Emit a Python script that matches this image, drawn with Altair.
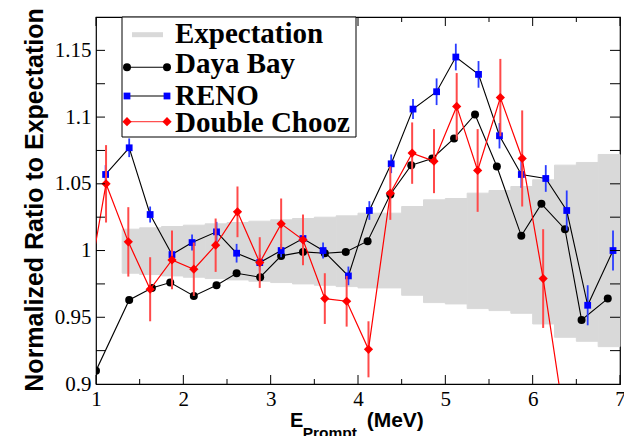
import altair as alt
import pandas as pd

# ---------------- data ----------------
band_x0 = [1.3, 1.5, 1.75, 2.0, 2.25, 2.5, 2.75, 3.0, 3.25, 3.5, 3.75, 4.0, 4.5, 4.75, 5.0, 5.25, 5.5, 5.75, 6.0, 6.25, 6.5, 6.75]
band_x1 = [1.5, 1.75, 2.0, 2.25, 2.5, 2.75, 3.0, 3.25, 3.5, 3.75, 4.0, 4.5, 4.75, 5.0, 5.25, 5.5, 5.75, 6.0, 6.25, 6.5, 6.75, 7.0]
band_hi = [1.016, 1.017, 1.018, 1.019, 1.020, 1.021, 1.022, 1.023, 1.024, 1.025, 1.026, 1.028, 1.033, 1.038, 1.039, 1.043, 1.045, 1.048, 1.053, 1.064, 1.066, 1.072]
band_lo = [0.983, 0.982, 0.981, 0.980, 0.979, 0.978, 0.977, 0.976, 0.975, 0.974, 0.973, 0.972, 0.9665, 0.961, 0.960, 0.9565, 0.955, 0.953, 0.945, 0.935, 0.932, 0.928]

db_x = [1.0, 1.38, 1.64, 1.85, 2.12, 2.38, 2.61, 2.88, 3.12, 3.37, 3.62, 3.86, 4.11, 4.37, 4.61, 4.85, 5.10, 5.34, 5.59, 5.87, 6.10, 6.37, 6.56, 6.86]
db_y = [0.910, 0.963, 0.972, 0.976, 0.966, 0.974, 0.983, 0.980, 0.996, 0.999, 0.998, 0.999, 1.007, 1.042, 1.064, 1.069, 1.084, 1.102, 1.063, 1.011, 1.035, 1.016, 0.948, 0.964]

reno_x = [1.11, 1.38, 1.62, 1.87, 2.10, 2.38, 2.61, 2.875, 3.12, 3.37, 3.60, 3.89, 4.13, 4.38, 4.63, 4.90, 5.12, 5.38, 5.62, 5.87, 6.15, 6.39, 6.63, 6.92]
reno_y = [1.057, 1.077, 1.027, 0.997, 1.006, 1.014, 0.998, 0.991, 1.000, 1.009, 1.000, 0.981, 1.030, 1.065, 1.106, 1.119, 1.145, 1.132, 1.086, 1.057, 1.054, 1.030, 0.959, 1.000]
reno_err = [0.007, 0.007, 0.006, 0.0045, 0.006, 0.0075, 0.007, 0.006, 0.005, 0.005, 0.006, 0.007, 0.007, 0.007, 0.0075, 0.010, 0.010, 0.010, 0.0095, 0.010, 0.010, 0.015, 0.015, 0.015]

dc_x = [0.875, 1.115, 1.37, 1.62, 1.87, 2.12, 2.37, 2.62, 2.875, 3.12, 3.37, 3.62, 3.87, 4.12, 4.37, 4.62, 4.87, 5.13, 5.37, 5.63, 5.88, 6.12, 6.37]
dc_y = [0.960, 1.050, 1.0065, 0.971, 0.993, 0.986, 1.004, 1.029, 0.991, 1.020, 1.008, 0.964, 0.962, 0.926, 1.043, 1.073, 1.067, 1.108, 1.060, 1.1146, 1.069, 0.979, 0.870]
dc_err = [0.0, 0.029, 0.026, 0.024, 0.022, 0.020, 0.020, 0.019, 0.019, 0.019, 0.019, 0.019, 0.019, 0.021, 0.020, 0.023, 0.024, 0.025, 0.031, 0.029, 0.036, 0.037, 0.0]

x_major = [1, 2, 3, 4, 5, 6, 7]
x_minor = [1.5, 2.5, 3.5, 4.5, 5.5, 6.5]
y_ticks = [0.925, 0.95, 0.975, 1.0, 1.025, 1.05, 1.075, 1.1, 1.125, 1.15]
y_labels = [0.9, 0.95, 1.0, 1.05, 1.1, 1.15]

legend_labels = ["Expectation", "Daya Bay", "RENO", "Double Chooz"]

# ---------------- layout ----------------
W, H = 524, 367
XD = [1, 7]
YD = [0.9, 1.175]
BAND = "#d9d9d9"

band = pd.DataFrame({"x0": band_x0, "x1": band_x1, "lo": band_lo, "hi": band_hi})
db = pd.DataFrame({"x": db_x, "y": db_y})
reno = pd.DataFrame({"x": reno_x, "y": reno_y, "e": reno_err})
reno["lo"] = reno["y"] - reno["e"]
reno["hi"] = reno["y"] + reno["e"]
dc = pd.DataFrame({"x": dc_x, "y": dc_y, "e": dc_err})
dc["lo"] = dc["y"] - dc["e"]
dc["hi"] = dc["y"] + dc["e"]

xscale = alt.Scale(domain=XD, nice=False, zero=False)
yscale = alt.Scale(domain=YD, nice=False, zero=False)

xaxis = alt.Axis(values=x_major, title=None, ticks=False, tickSize=0, domain=False, grid=False,
                 labelFont="Liberation Serif", labelFontSize=21, labelColor="black",
                 labelPadding=4, format="d", labelFlush=False)
yaxis = alt.Axis(values=y_labels, title=None, ticks=False, tickSize=0, domain=False, grid=False,
                 labelFont="Liberation Serif", labelFontSize=21, labelColor="black",
                 labelPadding=5, format="~g", labelFlush=False)


def X(f):
    return alt.X(f, type="quantitative", scale=xscale, axis=xaxis)


def Y(f):
    return alt.Y(f, type="quantitative", scale=yscale, axis=yaxis)


band_l = alt.Chart(band).mark_rect(color=BAND, stroke=BAND, strokeWidth=1).encode(
    x=X("x0"), x2="x1", y=Y("lo"), y2="hi")

db_line = alt.Chart(db).mark_line(color="black", strokeWidth=1.1, clip=True).encode(x=X("x"), y=Y("y"))
db_pts = alt.Chart(db).mark_point(shape="circle", filled=True, color="black", size=64, opacity=1, clip=True).encode(x=X("x"), y=Y("y"))

reno_err_l = alt.Chart(reno).mark_rule(color="#2a3cff", strokeWidth=1.8, clip=True).encode(x=X("x"), y=Y("lo"), y2="hi")
reno_line = alt.Chart(reno).mark_line(color="black", strokeWidth=1.1, clip=True).encode(x=X("x"), y=Y("y"))
reno_pts = alt.Chart(reno).mark_point(shape="square", filled=True, color="#0000ff", size=46, opacity=1, clip=True).encode(x=X("x"), y=Y("y"))

dc_err_l = alt.Chart(dc).mark_rule(color="#ff4a4a", strokeWidth=2, clip=True).encode(x=X("x"), y=Y("lo"), y2="hi")
dc_line = alt.Chart(dc).mark_line(color="#ff0000", strokeWidth=1.2, clip=True).encode(x=X("x"), y=Y("y"))
dc_pts = alt.Chart(dc).mark_point(shape="diamond", filled=True, color="#ff0000", size=85, opacity=1, clip=True).encode(x=X("x"), y=Y("y"))

# inward ticks
xmaj = pd.DataFrame({"t": x_major})
xmin = pd.DataFrame({"t": x_minor})
yt = pd.DataFrame({"t": y_ticks})
tick_layers = [
    alt.Chart(xmaj).mark_rule(color="black", strokeWidth=1).encode(x=X("t"), y=alt.value(H), y2=alt.value(H - 9)),
    alt.Chart(xmaj).mark_rule(color="black", strokeWidth=1).encode(x=X("t"), y=alt.value(0), y2=alt.value(9)),
    alt.Chart(xmin).mark_rule(color="black", strokeWidth=1).encode(x=X("t"), y=alt.value(H), y2=alt.value(H - 5)),
    alt.Chart(xmin).mark_rule(color="black", strokeWidth=1).encode(x=X("t"), y=alt.value(0), y2=alt.value(5)),
    alt.Chart(yt).mark_rule(color="black", strokeWidth=1).encode(y=Y("t"), x=alt.value(0), x2=alt.value(9)),
    alt.Chart(yt).mark_rule(color="black", strokeWidth=1).encode(y=Y("t"), x=alt.value(W), x2=alt.value(W - 10)),
]

# legend (drawn by hand, as in the original figure)
one = pd.DataFrame({"k": [0]})
leg = [
    alt.Chart(one).mark_rect(fill="white", stroke="black", strokeWidth=1).encode(
        x=alt.value(26), x2=alt.value(260), y=alt.value(0), y2=alt.value(120)),
    alt.Chart(one).mark_rule(color=BAND, strokeWidth=5).encode(
        x=alt.value(36), x2=alt.value(67), y=alt.value(17.7)),
    alt.Chart(one).mark_rule(color="black", strokeWidth=1.1).encode(
        x=alt.value(31), x2=alt.value(71), y=alt.value(50.3)),
    alt.Chart(one).mark_rule(color="black", strokeWidth=1.1).encode(
        x=alt.value(31), x2=alt.value(71), y=alt.value(79)),
    alt.Chart(one).mark_rule(color="#ff5050", strokeWidth=1.2).encode(
        x=alt.value(31), x2=alt.value(71), y=alt.value(104.7)),
]
for xv in (31, 71):
    leg.append(alt.Chart(one).mark_point(shape="circle", filled=True, color="black", size=64, opacity=1).encode(
        x=alt.value(xv), y=alt.value(50.3)))
    leg.append(alt.Chart(one).mark_point(shape="square", filled=True, color="#0000ff", size=46, opacity=1).encode(
        x=alt.value(xv), y=alt.value(79)))
    leg.append(alt.Chart(one).mark_point(shape="diamond", filled=True, color="#ff0000", size=85, opacity=1).encode(
        x=alt.value(xv), y=alt.value(104.7)))
for lab, yb in zip(legend_labels, [26.3, 56.3, 88, 114.7]):
    leg.append(alt.Chart(one).mark_text(text=lab, font="Liberation Serif", fontWeight="bold", fontSize=29,
                                         align="left", baseline="alphabetic", color="black").encode(
        x=alt.value(79), y=alt.value(yb)))

# axis titles
titles = [
    alt.Chart(one).mark_text(text="Normalized Ratio to Expectation", font="Liberation Sans", fontWeight="bold",
                             fontSize=25, angle=270, align="center", baseline="alphabetic", color="black").encode(
        x=alt.value(-53.3), y=alt.value(183)),
    alt.Chart(one).mark_text(text="E", font="Liberation Sans", fontWeight="bold", fontSize=20,
                             align="left", baseline="alphabetic", color="black").encode(
        x=alt.value(194), y=alt.value(410.3)),
    alt.Chart(one).mark_text(text="Prompt", font="Liberation Sans", fontWeight="bold", fontSize=15.5,
                             align="left", baseline="alphabetic", color="black").encode(
        x=alt.value(206.7), y=alt.value(420.6)),
    alt.Chart(one).mark_text(text="(MeV)", font="Liberation Sans", fontWeight="bold", fontSize=21,
                             align="left", baseline="alphabetic", color="black").encode(
        x=alt.value(270.7), y=alt.value(410.3)),
]

chart = alt.layer(
    band_l,
    db_line, db_pts,
    reno_err_l, reno_line, reno_pts,
    dc_err_l, dc_line, dc_pts,
    *tick_layers,
    *leg,
    *titles,
).properties(
    width=W, height=H,
    autosize=alt.AutoSizeParams(type="none"),
    padding={"left": 96, "top": 17, "right": 4, "bottom": 52},
    background="white",
).configure_view(stroke="black", strokeWidth=1.2)

chart.save("out.html", embed_options={"renderer": "svg", "actions": False})
